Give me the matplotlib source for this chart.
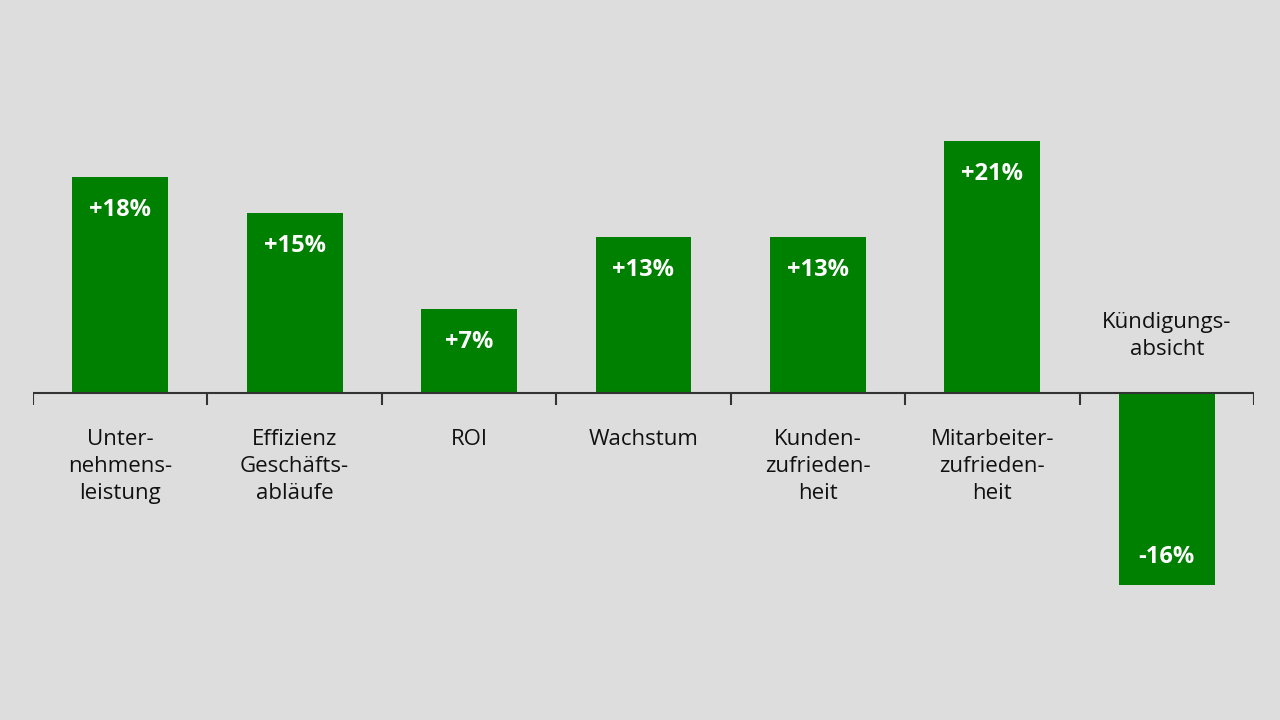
import matplotlib.pyplot as plt

C_BG = "#DDDDDD"
C_BAR = "#008000"
C_AXIS = "#333333"

plt.rcParams['font.family'] = ['Open Sans', 'DejaVu Sans']

categories = ["Unter-\nnehmens-\nleistung", "Effizienz\nGeschäfts-\nabläufe", "ROI", "Wachstum",
              "Kunden-\nzufrieden-\nheit", "Mitarbeiter-\nzufrieden-\nheit", "Kündigungs-\nabsicht"]
values = [18, 15, 7, 13, 13, 21, -16]
value_labels = ["+18%", "+15%", "+7%", "+13%", "+13%", "+21%", "-16%"]

fig = plt.figure(figsize=(12.8, 7.2), dpi=100, facecolor=C_BG)
ax = fig.add_axes([33 / 1280, 0, 1221 / 1280, 1])
ax.set_facecolor(C_BG)
ax.set_xlim(-0.5, len(values) - 0.5)
ax.set_ylim(-27.25, 32.75)
for s in ax.spines.values():
    s.set_visible(False)
ax.set_xticks([])
ax.set_yticks([])

xs = list(range(len(values)))
ax.bar(xs, values, width=0.55, color=C_BAR, zorder=2)

# baseline with boundary ticks
ax.axhline(0, color=C_AXIS, lw=1.5, zorder=3)
for b in [i - 0.5 for i in range(len(values) + 1)]:
    ax.plot([b, b], [0, -1.0], color=C_AXIS, lw=1.5, zorder=3, solid_capstyle='butt')

for x, v, lab, cat in zip(xs, values, value_labels, categories):
    if v >= 0:
        ax.annotate(lab, (x, v), xytext=(0, -24), textcoords='offset points',
                    ha='center', va='center', fontsize=17, fontweight='bold', color='white', zorder=4)
        ax.annotate(cat, (x, 0), xytext=(0, -26), textcoords='offset points',
                    ha='center', va='top', fontsize=16, color='#111111', linespacing=1.36)
    else:
        ax.annotate(lab, (x, v), xytext=(0, 20), textcoords='offset points',
                    ha='center', va='center', fontsize=17, fontweight='bold', color='white', zorder=4)
        ax.annotate(cat, (x, 0), xytext=(0, 24), textcoords='offset points',
                    ha='center', va='bottom', fontsize=16, color='#111111', linespacing=1.36)

fig.savefig("out.png", dpi=100, facecolor=C_BG)
